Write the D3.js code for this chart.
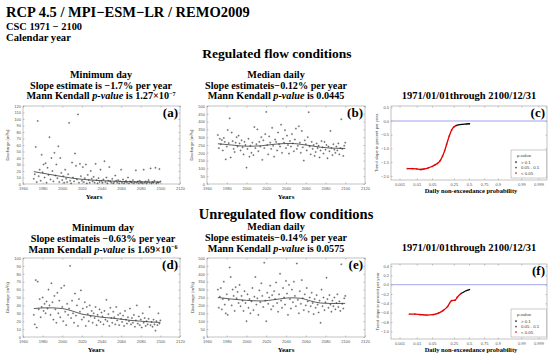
<!DOCTYPE html>
<html>
<head>
<meta charset="utf-8">
<script src="https://cdn.jsdelivr.net/npm/d3@7"></script>
<style>
  body { margin: 0; background: #fff; }
  svg { display: block; }
  .serif { font-family: "Liberation Serif", "Times New Roman", serif; font-weight: bold; fill: #000; }
  .ax text { font-family: "Liberation Sans", Arial, sans-serif; font-size: 4px; fill: #555; }
  .ax line { stroke: #888; stroke-width: 0.5; }
  .ax path { display: none; }
  .ylab { font-family: "Liberation Sans", Arial, sans-serif; font-size: 4.2px; fill: #444; }
  .leg { font-family: "Liberation Sans", Arial, sans-serif; font-size: 4.3px; fill: #333; }
</style>
</head>
<body>
<svg id="chart" width="550" height="359"></svg>
<script>
// ---- data ----
const firstYear = 1971;

// regulated, minimum day discharge (m3/s), 1971..2100
const regMin = [8, 15, 57, 3, 97, 12, 22, 5, 45, 18, 30, 10, 32, 2, 25, 14, 72, 7, 40, 20,
  4, 48, 13, 30, 9, 58, 3, 40, 17, 6, 12, 2, 22, 8, 3, 15, 94, 5, 1, 33,
  10, 4, 47, 28, 7, 107, 2, 31, 12, 5, 26, 3, 9, 30, 1, 14, 6, 2, 20, 8,
  4, 11, 2, 31, 6, 1, 9, 3, 22, 5, 2, 7, 35, 3, 10, 1, 5, 26, 4, 2,
  8, 1, 3, 13, 5, 2, 6, 1, 4, 22, 2, 7, 1, 3, 5, 2, 10, 1, 4, 3,
  2, 6, 1, 3, 21, 2, 4, 1, 5, 2, 3, 1, 22, 2, 4, 1, 3, 6, 2, 24,
  1, 3, 2, 5, 25, 1, 3, 2, 23, 4];
// regulated, median daily discharge
const regMed = [314, 230, 290, 255, 282, 215, 295, 270, 158, 240, 346, 262, 421, 170, 330, 275, 225, 205, 265, 300,
  240, 310, 260, 215, 280, 235, 190, 270, 250, 105, 225, 290, 175, 245, 200, 265, 185, 365, 230, 255,
  350, 210, 270, 240, 300, 155, 280, 230, 320, 462, 250, 190, 305, 265, 225, 360, 245, 175, 285, 270,
  215, 330, 255, 240, 380, 200, 290, 265, 345, 230, 310, 250, 195, 275, 240, 320, 260, 210, 285, 355,
  225, 245, 370, 265, 200, 340, 235, 150, 280, 255, 215, 300, 460, 240, 190, 270, 225, 250, 180, 205,
  260, 230, 245, 170, 215, 275, 235, 195, 270, 220, 250, 165, 240, 210, 340, 230, 185, 255, 220, 200,
  240, 215, 260, 190, 230, 415, 225, 180, 245, 265];
// unregulated, minimum day discharge
const unregMin = [28, 16, 72, 12, 70, 35, 48, 25, 38, 50, 33, 42, 30, 45, 36, 60, 40, 28, 68, 44,
  22, 52, 35, 18, 56, 30, 46, 25, 62, 38, 20, 65, 32, 15, 42, 28, 36, 90, 24, 46,
  30, 18, 55, 27, 40, 14, 48, 32, 59, 22, 36, 25, 44, 14, 38, 29, 20, 40, 26, 33,
  18, 30, 24, 38, 15, 28, 21, 35, 19, 31, 26, 16, 33, 22, 47, 20, 29, 14, 37, 24,
  18, 32, 25, 16, 38, 21, 28, 15, 30, 23, 19, 27, 14, 33, 22, 17, 25, 20, 36, 16,
  24, 18, 28, 13, 21, 40, 17, 26, 15, 22, 12, 30, 18, 24, 14, 20, 16, 23, 38, 15,
  19, 13, 22, 16, 8, 20, 15, 30, 17, 21];
// unregulated, median daily discharge
const unregMed = [300, 185, 255, 310, 175, 240, 350, 205, 150, 270, 140, 235, 440, 380, 200, 300, 260, 165, 315, 245,
  285, 215, 330, 195, 260, 230, 165, 290, 215, 100, 270, 185, 240, 150, 225, 310, 170, 255, 380, 205,
  245, 140, 295, 220, 340, 260, 190, 470, 230, 100, 280, 210, 250, 325, 175, 265, 195, 290, 240, 345,
  215, 160, 270, 400, 230, 185, 310, 250, 205, 355, 275, 140, 330, 240, 180, 300, 220, 350, 260, 195,
  465, 235, 150, 290, 210, 360, 245, 170, 270, 200, 310, 225, 160, 250, 195, 280, 215, 145, 240, 185,
  265, 205, 155, 230, 90, 300, 195, 250, 170, 220, 375, 240, 185, 265, 205, 160, 230, 195, 250, 175,
  215, 270, 190, 225, 165, 460, 210, 180, 245, 260];

// smoothed trend lines
const trendYearsA = [1971, 1990, 2010, 2030, 2050, 2070, 2100];
const trendA = [19, 14, 9, 6, 4.5, 3.5, 3];
const trendYearsB = [1971, 1985, 2000, 2015, 2030, 2045, 2060, 2075, 2090, 2100];
const trendB = [258, 250, 242, 245, 256, 260, 250, 236, 229, 228];
const trendYearsD = [1971, 1985, 2000, 2010, 2020, 2030, 2040, 2050, 2060, 2070, 2080, 2090, 2100];
const trendD = [36, 37, 36, 33, 29, 27, 25, 24, 22.5, 21, 20, 19, 18.5];
const trendYearsE = [1971, 1985, 2000, 2015, 2030, 2045, 2055, 2065, 2075, 2090, 2100];
const trendE = [250, 240, 232, 228, 238, 248, 245, 228, 215, 212, 213];

// trend slope (% per year) vs daily non-exceedance probability
const probCRed = [0.003, 0.006, 0.01, 0.015, 0.023, 0.035, 0.05, 0.065, 0.08, 0.10, 0.12, 0.14, 0.16, 0.19, 0.22, 0.25, 0.28];
const slopeCRed = [-1.74, -1.74, -1.75, -1.77, -1.75, -1.71, -1.66, -1.60, -1.55, -1.45, -1.28, -1.08, -0.85, -0.55, -0.33, -0.22, -0.17];
const probCBlack = [0.28, 0.32, 0.38, 0.45, 0.52];
const slopeCBlack = [-0.17, -0.14, -0.12, -0.11, -0.10];
const probFRed = [0.004, 0.008, 0.015, 0.03, 0.056, 0.087, 0.127, 0.17, 0.22, 0.27, 0.30, 0.36];
const slopeFRed = [-0.63, -0.63, -0.64, -0.65, -0.64, -0.61, -0.55, -0.47, -0.34, -0.33, -0.27, -0.19];
const probFBlack = [0.36, 0.43, 0.52];
const slopeFBlack = [-0.19, -0.14, -0.10];

// tick labels
const yearTicks = [1960, 1980, 2000, 2020, 2040, 2060, 2080, 2100, 2120];
const ticksMinReg = [0, 10, 20, 30, 40, 50, 60, 70, 80, 90, 100, 110, 120];
const ticksMinUnreg = [0, 10, 20, 30, 40, 50, 60, 70, 80, 90, 100];
const ticksMed = [0, 50, 100, 150, 200, 250, 300, 350, 400, 450, 500];
const probTicks = [0.001, 0.01, 0.05, 0.25, 0.5, 0.75, 0.9, 0.99, 0.999];
const slopeTicksC = [0.5, 0, -0.5, -1, -1.5, -2];
const slopeTicksF = [0.4, 0.2, 0, -0.2, -0.4, -0.6, -0.8, -1];
const legendLabels = ['> 0.1', '0.05 - 0.1', '< 0.05'];
const legendColors = ['#000', '#333', '#e00000'];

const svg = d3.select('#chart');

// inverse normal cdf (Acklam) for the probability axis
function probit(p) {
  const a = [-39.69683028665376, 220.9460984245205, -275.9285104469687, 138.3577518672690, -30.66479806614716, 2.506628277459239];
  const b = [-54.47609879822406, 161.5858368580409, -155.6989798598866, 66.80131188771972, -13.28068155288572];
  const c = [-0.007784894002430293, -0.3223964580411365, -2.400758277161838, -2.549732539343734, 4.374664141464968, 2.938163982698783];
  const d = [0.007784695709041462, 0.3224671290700398, 2.445134137142996, 3.754408661907416];
  const lo = 0.02425;
  let q, r;
  if (p < lo) {
    q = Math.sqrt(-2 * Math.log(p));
    return (((((c[0] * q + c[1]) * q + c[2]) * q + c[3]) * q + c[4]) * q + c[5]) / ((((d[0] * q + d[1]) * q + d[2]) * q + d[3]) * q + 1);
  }
  if (p <= 1 - lo) {
    q = p - 0.5; r = q * q;
    return (((((a[0] * r + a[1]) * r + a[2]) * r + a[3]) * r + a[4]) * r + a[5]) * q / (((((b[0] * r + b[1]) * r + b[2]) * r + b[3]) * r + b[4]) * r + 1);
  }
  q = Math.sqrt(-2 * Math.log(1 - p));
  return -(((((c[0] * q + c[1]) * q + c[2]) * q + c[3]) * q + c[4]) * q + c[5]) / ((((d[0] * q + d[1]) * q + d[2]) * q + d[3]) * q + 1);
}

const plus = 'M-1,0H1M0,-1V1';

function frame(box) {
  svg.append('rect')
    .attr('x', box.x0).attr('y', box.y0)
    .attr('width', box.x1 - box.x0).attr('height', box.y1 - box.y0)
    .attr('fill', 'none').attr('stroke', '#999').attr('stroke-width', 0.6);
}

function axes(box, x, y, xt, yt, xfmt, yfmt) {
  svg.append('g').attr('class', 'ax').attr('transform', `translate(0,${box.y1})`)
    .call(d3.axisBottom(x).tickValues(xt).tickSize(-1.5).tickSizeOuter(0).tickPadding(3.2).tickFormat(xfmt));
  svg.append('g').attr('class', 'ax').attr('transform', `translate(0,${box.y0})`)
    .call(d3.axisTop(x).tickValues(xt).tickSize(-1.5).tickSizeOuter(0).tickFormat(''));
  svg.append('g').attr('class', 'ax').attr('transform', `translate(${box.x0},0)`)
    .call(d3.axisLeft(y).tickValues(yt).tickSize(-1.5).tickSizeOuter(0).tickPadding(2).tickFormat(yfmt));
  svg.append('g').attr('class', 'ax').attr('transform', `translate(${box.x1},0)`)
    .call(d3.axisRight(y).tickValues(yt).tickSize(-1.5).tickSizeOuter(0).tickFormat(''));
}

function titles(lines, cx, y0, gap, size) {
  lines.forEach((ln, i) => {
    const t = svg.append('text').attr('class', 'serif')
      .attr('x', cx).attr('y', y0 + i * gap)
      .attr('text-anchor', 'middle').style('font-size', size + 'px');
    ln.forEach(part => {
      const s = t.append('tspan').text(part.t);
      if (part.i) s.style('font-style', 'italic');
      if (part.sup) s.attr('dy', -3.5).style('font-size', (size * 0.6) + 'px');
    });
  });
}

function label(txt, x, y, size, anchor) {
  svg.append('text').attr('class', 'serif')
    .attr('x', x).attr('y', y).attr('text-anchor', anchor || 'middle')
    .style('font-size', size + 'px').text(txt);
}

function ylabel(txt, x, y) {
  svg.append('text').attr('class', 'ylab')
    .attr('transform', `translate(${x},${y}) rotate(-90)`)
    .attr('text-anchor', 'middle').text(txt);
}

function scatterPanel(o) {
  const box = o.box;
  const x = d3.scaleLinear().domain([1960, 2120]).range([box.x0, box.x1]);
  const y = d3.scaleLinear().domain([0, o.yMax]).range([box.y1, box.y0]);
  frame(box);
  axes(box, x, y, yearTicks, o.yTicks, d3.format('d'), d3.format('d'));

  svg.append('g').selectAll('path')
    .data(o.values)
    .join('path')
    .attr('d', plus)
    .attr('transform', (d, i) => `translate(${x(firstYear + i)},${y(d)})`)
    .attr('stroke', '#333').attr('stroke-width', 0.5).attr('fill', 'none');

  const line = d3.line()
    .x((d, i) => x(o.trendYears[i]))
    .y(d => y(d))
    .curve(d3.curveMonotoneX);
  svg.append('path').datum(o.trend)
    .attr('d', line).attr('fill', 'none')
    .attr('stroke', '#333').attr('stroke-width', 0.8);

  label(o.tag, box.x1 - 2, box.y0 + 11, 13, 'end');
  ylabel('Discharge (m\u00b3/s)', o.ylabX, (box.y0 + box.y1) / 2);
  label('Years', o.xlabX, box.y1 + 15, 7);
}

function probPanel(o) {
  const box = o.box;
  const xz = d3.scaleLinear().domain([-3.47, 3.47]).range([box.x0, box.x1]);
  const xp = p => xz(probit(p));
  xp.domain = () => [0.00026, 0.99974];
  xp.range = () => xz.range();
  xp.copy = () => xp;
  const y = d3.scaleLinear().domain(o.yDomain).range([box.y1, box.y0]);
  frame(box);
  axes(box, xp, y, probTicks, o.yTicks, d => String(d), d3.format('.1f'));

  svg.append('line')
    .attr('x1', box.x0).attr('x2', box.x1)
    .attr('y1', y(0)).attr('y2', y(0))
    .attr('stroke', '#8c8ce6').attr('stroke-width', 0.8);

  const line = d3.line().x(d => xp(d[0])).y(d => y(d[1])).curve(d3.curveMonotoneX);
  const red = o.redP.map((p, i) => [p, o.redS[i]]);
  const black = o.blackP.map((p, i) => [p, o.blackS[i]]);
  svg.append('path').datum(red).attr('d', line).attr('fill', 'none')
    .attr('stroke', '#e00000').attr('stroke-width', 1.3);
  svg.append('path').datum(black).attr('d', line).attr('fill', 'none')
    .attr('stroke', '#000').attr('stroke-width', 1.3);
  svg.append('g').selectAll('path').data(red).join('path')
    .attr('d', plus).attr('transform', d => `translate(${xp(d[0])},${y(d[1])})`)
    .attr('stroke', '#e00000').attr('stroke-width', 0.5);

  // legend
  const lx = box.x1 - 36, ly = box.y1 - 30;
  svg.append('rect').attr('x', lx).attr('y', ly).attr('width', 35.5).attr('height', 28)
    .attr('fill', '#fff').attr('stroke', '#999').attr('stroke-width', 0.5);
  svg.append('text').attr('class', 'leg').attr('x', lx + 6).attr('y', ly + 6.5).text('p-value');
  legendLabels.forEach((t, i) => {
    const yy = ly + 13.5 + i * 5.5;
    svg.append('path').attr('d', plus).attr('transform', `translate(${lx + 5},${yy - 1.4})`)
      .attr('stroke', legendColors[i]).attr('stroke-width', 0.6);
    svg.append('text').attr('class', 'leg').attr('x', lx + 10).attr('y', yy).text(t);
  });

  label(o.tag, box.x1 - 2, box.y0 + 11, 13, 'end');
  ylabel('Trend slope in percent per year', o.ylabX, (box.y0 + box.y1) / 2);
  label('Daily non-exceedance probability', 471, box.y1 + 13, 6.5);
}

// ---- headings ----
label('RCP 4.5 / MPI\u2212ESM\u2212LR / REMO2009', 6, 16.5, 14.5, 'start');
label('CSC 1971 \u2212 2100', 6, 29.6, 10.4, 'start');
label('Calendar year', 6, 41, 10.6, 'start');
label('Regulated flow conditions', 277, 58, 13.5);
label('Unregulated flow conditions', 286, 219, 14.5);

// ---- panel titles ----
titles([[{ t: 'Minimum day' }],
  [{ t: 'Slope estimate is \u22121.7% per year' }],
  [{ t: 'Mann Kendall ' }, { t: 'p-value', i: true }, { t: ' is 1.27\u00d710' }, { t: '\u22127', sup: true }]],
  101, 78, 10.7, 10.2);
titles([[{ t: 'Median daily' }],
  [{ t: 'Slope estimateis\u22120.12% per year' }],
  [{ t: 'Mann Kendall ' }, { t: 'p-value', i: true }, { t: ' is 0.0445' }]],
  276, 78, 10.7, 10.2);
titles([[{ t: '1971/01/01through 2100/12/31' }]], 469, 99, 0, 10.5);
titles([[{ t: 'Minimum day' }],
  [{ t: 'Slope estimateis \u22120.63% per year' }],
  [{ t: 'Mann Kendall ' }, { t: 'p-value', i: true }, { t: ' is 1.69\u00d710' }, { t: '\u22126', sup: true }]],
  103, 231, 10.9, 10.2);
titles([[{ t: 'Median daily' }],
  [{ t: 'Slope estimateis\u22120.14% per year' }],
  [{ t: 'Mann Kendall ' }, { t: 'p-value', i: true }, { t: ' is 0.0575' }]],
  276, 230, 11.2, 10.2);
titles([[{ t: '1971/01/01through 2100/12/31' }]], 469, 251, 0, 10.5);

// ---- panels ----
scatterPanel({ box: { x0: 23, x1: 180, y0: 106, y1: 184 }, yMax: 120, yTicks: ticksMinReg,
  values: regMin, trendYears: trendYearsA, trend: trendA, tag: '(a)', ylabX: 9, xlabX: 94 });
scatterPanel({ box: { x0: 207, x1: 365, y0: 106, y1: 184 }, yMax: 500, yTicks: ticksMed,
  values: regMed, trendYears: trendYearsB, trend: trendB, tag: '(b)', ylabX: 193, xlabX: 286 });
scatterPanel({ box: { x0: 23, x1: 180, y0: 258, y1: 337 }, yMax: 100, yTicks: ticksMinUnreg,
  values: unregMin, trendYears: trendYearsD, trend: trendD, tag: '(d)', ylabX: 9, xlabX: 96 });
scatterPanel({ box: { x0: 207, x1: 365, y0: 258, y1: 337 }, yMax: 500, yTicks: ticksMed,
  values: unregMed, trendYears: trendYearsE, trend: trendE, tag: '(e)', ylabX: 194, xlabX: 286 });
probPanel({ box: { x0: 391, x1: 547, y0: 106, y1: 180 }, yDomain: [-2.153, 0.547], yTicks: slopeTicksC,
  redP: probCRed, redS: slopeCRed, blackP: probCBlack, blackS: slopeCBlack, tag: '(c)', ylabX: 378 });
probPanel({ box: { x0: 391, x1: 547, y0: 264, y1: 339 }, yDomain: [-1.163, 0.443], yTicks: slopeTicksF,
  redP: probFRed, redS: slopeFRed, blackP: probFBlack, blackS: slopeFBlack, tag: '(f)', ylabX: 379 });
</script>
</body>
</html>
